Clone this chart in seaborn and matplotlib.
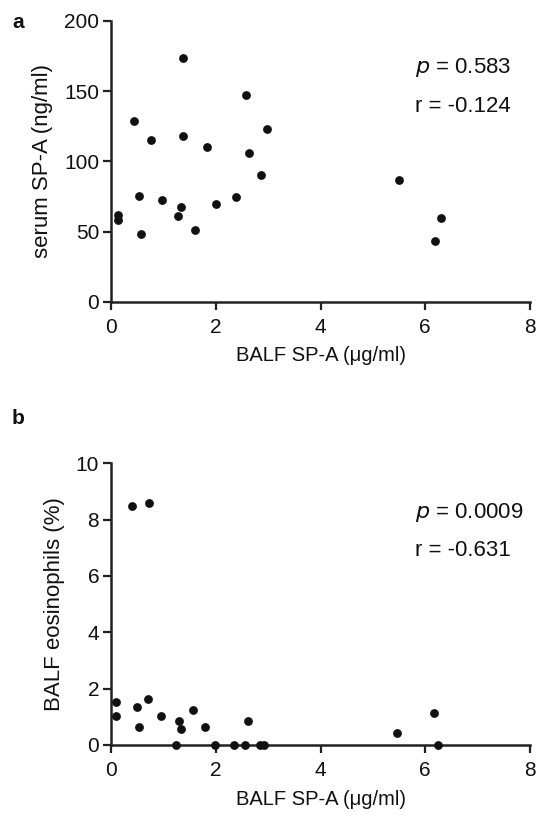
import matplotlib
matplotlib.use("Agg")
import matplotlib.pyplot as plt
import seaborn as sns
import pandas as pd

# Panel a data
balf_a = [0.13, 0.13, 0.43, 0.54, 0.57, 0.76, 0.98, 1.27, 1.33, 1.37, 1.37,
          1.61, 1.83, 2.01, 2.38, 2.57, 2.63, 2.87, 2.97, 5.50, 6.19, 6.30]
serum_a = [62, 58.5, 128.8, 75, 48, 115, 72.6, 61.4, 67.6, 118, 173.8,
           51.4, 110, 69.3, 74.8, 147.4, 106, 90.5, 123, 86.4, 43.6, 59.8]

# Panel b data
balf_b = [0.10, 0.10, 0.40, 0.49, 0.53, 0.71, 0.73, 0.95, 1.24, 1.29, 1.34,
          1.57, 1.79, 1.98, 2.35, 2.55, 2.61, 2.84, 2.92, 5.46, 6.16, 6.25]
eos_b = [1.54, 1.04, 8.48, 1.34, 0.65, 1.64, 8.59, 1.04, 0.0, 0.86, 0.56,
         1.24, 0.65, 0.0, 0.0, 0.0, 0.85, 0.0, 0.0, 0.44, 1.12, 0.0]

xticks = [0, 2, 4, 6, 8]
yticks_a = [0, 50, 100, 150, 200]
yticks_b = [0, 2, 4, 6, 8, 10]
stats_a = ["p = 0.583", "r = -0.124"]
stats_b = ["p = 0.0009", "r = -0.631"]

sns.set_style("ticks")
plt.rcParams['font.family'] = ['Liberation Sans', 'DejaVu Sans']

fig = plt.figure(figsize=(5.36, 8.15), dpi=100)
W, H = 536, 815

def ax_rect(x0, x1, ytop, ybot):
    return [x0 / W, 1 - ybot / H, (x1 - x0) / W, (ybot - ytop) / H]

ax_a = fig.add_axes(ax_rect(111, 530, 21, 301.7))
ax_b = fig.add_axes(ax_rect(111, 530, 463.3, 745))

df_a = pd.DataFrame({"x": balf_a, "y": serum_a})
df_b = pd.DataFrame({"x": balf_b, "y": eos_b})

col = "#111111"
for ax, df, yt, ylab, stats, ytext in [
    (ax_a, df_a, yticks_a, "serum SP-A (ng/ml)", stats_a, (167, 139)),
    (ax_b, df_b, yticks_b, "BALF eosinophils (%)", stats_b, (8.26, 6.9)),
]:
    sns.scatterplot(data=df, x="x", y="y", ax=ax, color=col, s=40,
                    edgecolor=col, linewidth=0, clip_on=False, zorder=3)
    ax.set_xlim(0, 8)
    ax.set_ylim(yt[0], yt[-1])
    ax.set_xticks(xticks)
    ax.set_yticks(yt)
    ax.set_xticklabels([str(t) for t in xticks])
    ax.set_yticklabels([str(t) for t in yt])
    ax.set_xlabel("BALF SP-A (\u03bcg/ml)", fontsize=14.5, labelpad=7,
                  color="#111111")
    ax.set_ylabel(ylab, fontsize=16, labelpad=8, color="#111111")
    ax.tick_params(axis="both", labelsize=15, length=6, width=1.6,
                   color="#222222", labelcolor="#111111")
    ax.tick_params(axis="x", pad=5.5)
    ax.tick_params(axis="y", pad=2.5)
    for sp in ["top", "right"]:
        ax.spines[sp].set_visible(False)
    for sp in ["left", "bottom"]:
        ax.spines[sp].set_linewidth(1.8)
        ax.spines[sp].set_color("#222222")
    ax.text(5.8, ytext[0], r"$\it{p}$" + stats[0][1:], fontsize=16,
            va="center", ha="left", color="#111111")
    ax.text(5.8, ytext[1], stats[1], fontsize=16, va="center", ha="left",
            color="#111111")

fig.text(12 / W, 1 - 22 / H, "a", fontsize=15, fontweight="bold",
         va="center", ha="left", color="#111111")
fig.text(12 / W, 1 - 418 / H, "b", fontsize=15, fontweight="bold",
         va="center", ha="left", color="#111111")

fig.savefig("out.png", dpi=100)
